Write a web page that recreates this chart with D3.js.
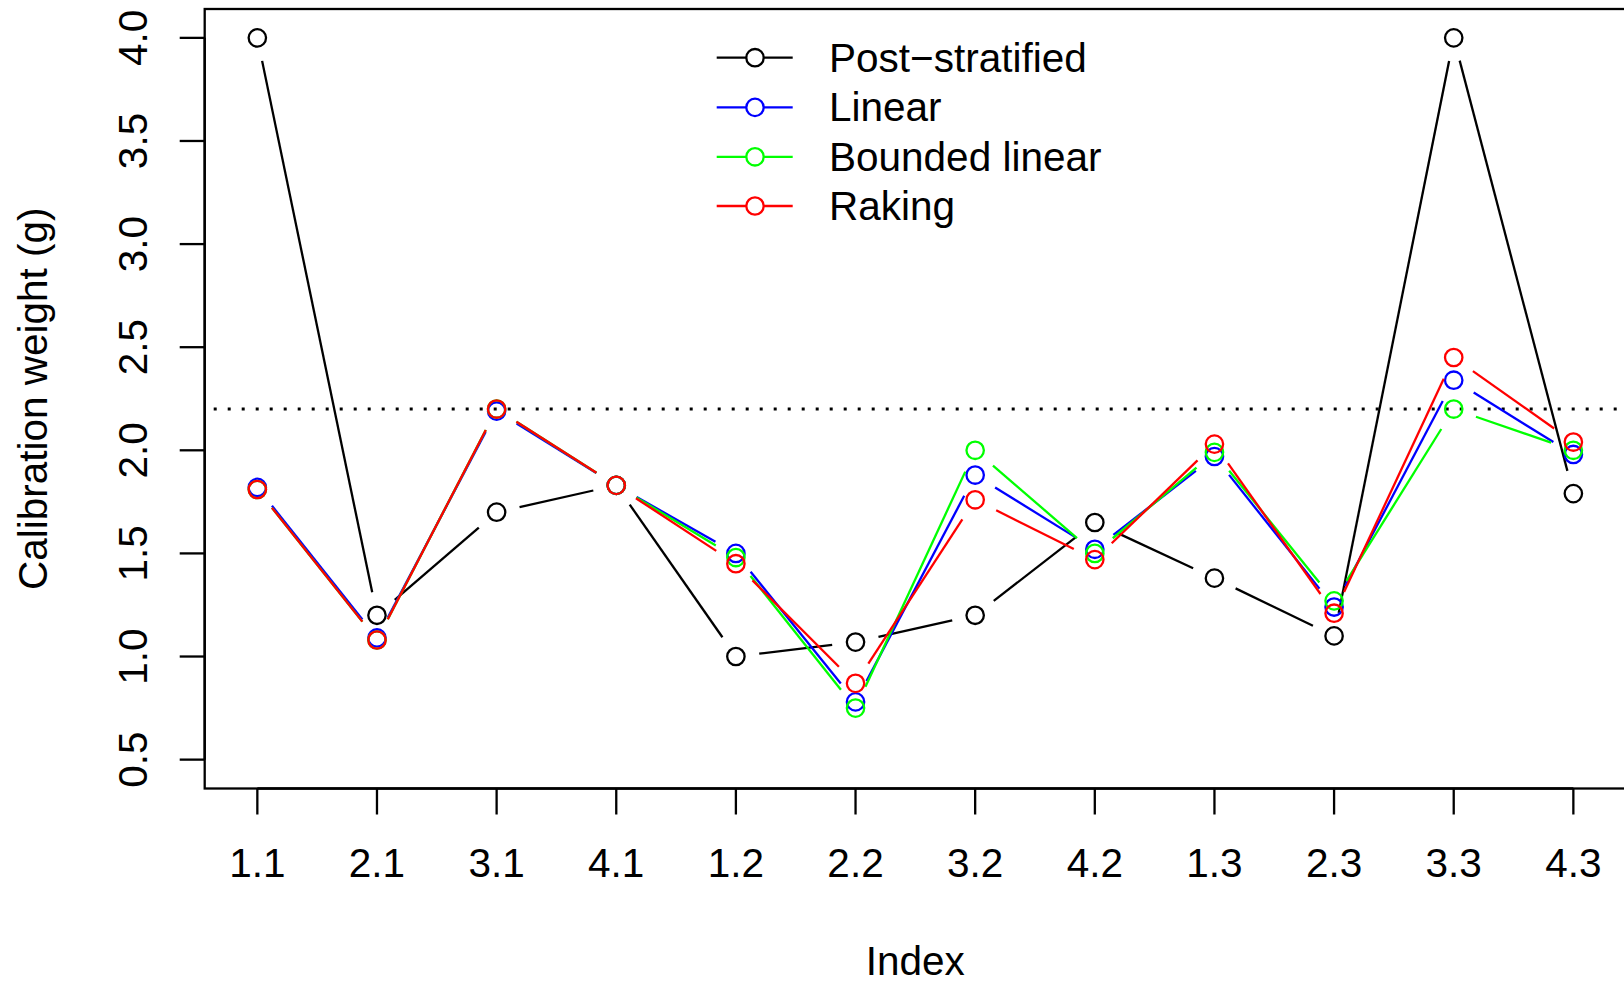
<!DOCTYPE html>
<html>
<head>
<meta charset="utf-8">
<script src="https://cdn.jsdelivr.net/npm/d3@7"></script>
<style>
html,body{margin:0;padding:0;background:#fff;}
svg{display:block;}
text{font-family:"Liberation Sans",Arial,Helvetica,sans-serif;fill:#000;}
</style>
</head>
<body>
<svg id="chart" width="1624" height="983"></svg>
<script>
const categories = ["1.1","2.1","3.1","4.1","1.2","2.2","3.2","4.2","1.3","2.3","3.3","4.3"];
const postStratified = [4.00,1.20,1.70,1.83,1.00,1.07,1.20,1.65,1.38,1.10,4.00,1.79];
const linear         = [1.82,1.09,2.19,1.83,1.50,0.78,1.88,1.52,1.97,1.24,2.34,1.98];
const boundedLinear  = [1.81,1.08,2.20,1.83,1.48,0.75,2.00,1.50,1.99,1.27,2.20,2.00];
const raking         = [1.81,1.08,2.20,1.83,1.45,0.87,1.76,1.47,2.03,1.21,2.45,2.04];
const seriesNames  = ["Post\u2212stratified","Linear","Bounded linear","Raking"];
const seriesColors = ["#000000","#0000ff","#00ff00","#ff0000"];
const yTicks = [0.5,1.0,1.5,2.0,2.5,3.0,3.5,4.0];
const refLine = 2.2;
const xTitle = "Index";
const yTitle = "Calibration weight (g)";

(function () {
const series = [postStratified, linear, boundedLinear, raking];

const svg = d3.select("#chart");
const pL = 204.7, pR = 1626, pT = 9, pB = 788.5;

// R-style 4% extension
const x = d3.scaleLinear().domain([1 - 0.44, 12 + 0.44]).range([pL, pR]);
const y = d3.scaleLinear().domain([0.5 - 0.14, 4.0 + 0.14]).range([pB, pT]);

const FS = 40.5;
const LW = 2.3;

// box
svg.append("rect").attr("x", pL).attr("y", pT).attr("width", pR - pL).attr("height", pB - pT)
  .attr("fill", "none").attr("stroke", "#000").attr("stroke-width", LW);

// x axis
const xAxis = svg.append("g");
xAxis.append("line").attr("x1", x(1)).attr("x2", x(12)).attr("y1", pB).attr("y2", pB)
  .attr("stroke", "#000").attr("stroke-width", LW);
categories.forEach((c, i) => {
  const xx = x(i + 1);
  xAxis.append("line").attr("x1", xx).attr("x2", xx).attr("y1", pB).attr("y2", pB + 26)
    .attr("stroke", "#000").attr("stroke-width", LW);
  xAxis.append("text").attr("x", xx).attr("y", 877).attr("text-anchor", "middle")
    .attr("font-size", FS).text(c);
});

// y axis
const yAxis = svg.append("g");
yAxis.append("line").attr("x1", pL).attr("x2", pL).attr("y1", y(4)).attr("y2", y(0.5))
  .attr("stroke", "#000").attr("stroke-width", LW);
yTicks.forEach(t => {
  const yy = y(t);
  yAxis.append("line").attr("x1", pL - 25).attr("x2", pL).attr("y1", yy).attr("y2", yy)
    .attr("stroke", "#000").attr("stroke-width", LW);
  yAxis.append("text").attr("transform", `translate(146.5,${yy}) rotate(-90)`)
    .attr("text-anchor", "middle").attr("font-size", FS).text(t.toFixed(1));
});

// titles
svg.append("text").attr("x", (pL + pR) / 2).attr("y", 975).attr("text-anchor", "middle")
  .attr("font-size", FS).text(xTitle);
svg.append("text").attr("transform", `translate(47,${(pT + pB) / 2}) rotate(-90)`)
  .attr("text-anchor", "middle").attr("font-size", FS).text(yTitle);

// reference line
svg.append("line").attr("x1", pL).attr("x2", pR).attr("y1", y(refLine)).attr("y2", y(refLine))
  .attr("stroke", "#000").attr("stroke-width", 3).attr("stroke-dasharray", "3 11")
  .attr("stroke-dashoffset", -9);

// series, type = "b"
const GAP = 23.5, R = 8.7;
const plot = svg.append("g");
series.forEach((vals, s) => {
  const col = seriesColors[s];
  const g = plot.append("g");
  for (let i = 0; i < vals.length - 1; i++) {
    const x0 = x(i + 1), y0 = y(vals[i]), x1 = x(i + 2), y1 = y(vals[i + 1]);
    const dx = x1 - x0, dy = y1 - y0, d = Math.hypot(dx, dy);
    if (d <= 2 * GAP) continue;
    const ux = dx / d, uy = dy / d;
    g.append("line")
      .attr("x1", x0 + ux * GAP).attr("y1", y0 + uy * GAP)
      .attr("x2", x1 - ux * GAP).attr("y2", y1 - uy * GAP)
      .attr("stroke", col).attr("stroke-width", LW);
  }
  g.selectAll("circle").data(vals).join("circle")
    .attr("cx", (d, i) => x(i + 1)).attr("cy", d => y(d)).attr("r", R)
    .attr("fill", "none").attr("stroke", col).attr("stroke-width", LW);
});

// legend
const legY = [57.7, 107.4, 156.8, 206];
const leg = svg.append("g");
seriesNames.forEach((n, s) => {
  const yy = legY[s];
  leg.append("line").attr("x1", 716.7).attr("x2", 792.7).attr("y1", yy).attr("y2", yy)
    .attr("stroke", seriesColors[s]).attr("stroke-width", LW);
  leg.append("circle").attr("cx", 755).attr("cy", yy).attr("r", R)
    .attr("fill", "#fff").attr("stroke", seriesColors[s]).attr("stroke-width", LW);
  leg.append("text").attr("x", 829).attr("y", yy + 14).attr("font-size", FS).text(n);
});
})();
</script>
</body>
</html>
